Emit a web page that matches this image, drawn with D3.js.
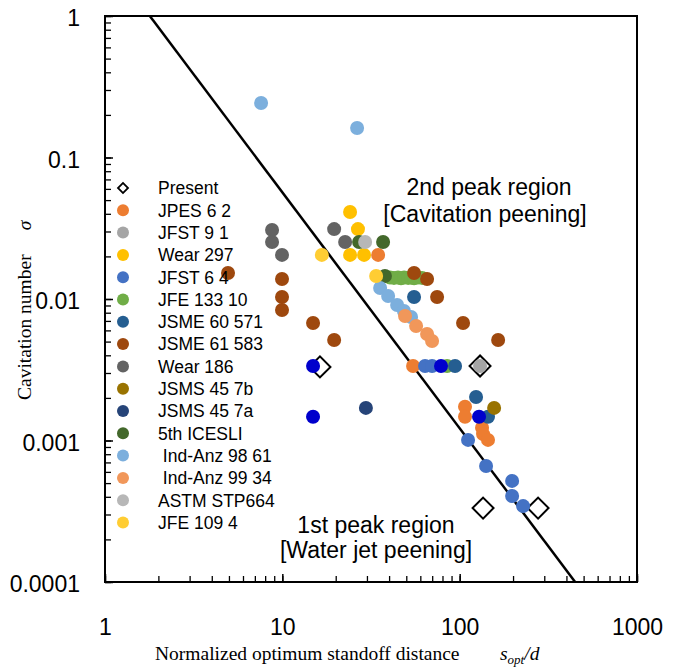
<!DOCTYPE html>
<html>
<head>
<meta charset="utf-8">
<script src="https://cdn.jsdelivr.net/npm/d3@7"></script>
<style>
  body { margin: 0; background: #fff; }
</style>
</head>
<body>
<div id="chart"></div>
<script>
// ---- data: [s_opt/d, sigma] ----
const present      = [[16.3, 0.00331], [130.3, 0.00336], [135.5, 0.000333], [276.8, 0.000333]];
const jpes62       = [[34.7, 0.0205], [54.6, 0.00336], [107.2, 0.00173], [107.2, 0.00147], [133.7, 0.00123], [135.5, 0.00111], [144.5, 0.00101]];
const jfst91       = [[130.3, 0.00336]];
const wear297      = [[24.1, 0.0412], [26.7, 0.0312], [24.1, 0.0205], [28.9, 0.0205]];
const jfst64       = [[63.8, 0.00336], [69.9, 0.00336], [111.5, 0.00101], [140.9, 0.00066], [197.6, 0.000518], [197.6, 0.000405], [227.9, 0.000344]];
const jfe13310     = [[40.5, 0.0142], [42.6, 0.0141], [44.9, 0.0142], [46.7, 0.0140], [48.6, 0.0142], [51.2, 0.0141], [53.2, 0.0142], [55.3, 0.0140], [58.3, 0.0142], [61.4, 0.0141], [84.9, 0.00336]];
const jsme60571    = [[55.3, 0.01033], [94.2, 0.00336], [123.7, 0.00203], [144.5, 0.00147]];
const jsme61583    = [[4.94, 0.01527], [9.96, 0.01385], [9.96, 0.01033], [9.96, 0.00836], [14.9, 0.00677], [19.6, 0.00513], [55.3, 0.01527], [65.5, 0.01385], [74.6, 0.01033], [104.5, 0.00677], [164.8, 0.00513]];
const wear186      = [[8.75, 0.0307], [8.75, 0.0253], [9.96, 0.0205], [19.6, 0.0312], [22.6, 0.0253]];
const jsms457b     = [[156.4, 0.0017]];
const jsms457a     = [[29.6, 0.0017]];
const icesli5      = [[27.1, 0.0253], [37.0, 0.0253], [37.9, 0.01455]];
const indAnz9861   = [[7.59, 0.243], [26.4, 0.1616], [35.6, 0.01197], [39.5, 0.0105], [44.4, 0.00907], [48.5, 0.00823], [53.2, 0.00746]];
const indAnz9934   = [[49.2, 0.00758], [56.8, 0.00645], [65.5, 0.00566], [69.9, 0.00505]];
const astmStp664   = [[29.3, 0.0253]];
const jfe1094      = [[16.7, 0.0205], [33.8, 0.01455]];
const unlabelled   = [[14.9, 0.00336], [14.9, 0.00147], [78.5, 0.00336], [128.6, 0.00147]];

// fitted line end points
const fitLine = [[1.79, 1], [448, 0.0001]];

const xTickValues = [1, 10, 100, 1000];
const xTickLabels = ["1", "10", "100", "1000"];
const yTickValues = [0.0001, 0.001, 0.01, 0.1, 1];
const yTickLabels = ["0.0001", "0.001", "0.01", "0.1", "1"];

const series = [
  {name: "Present",        values: present,    colour: "#fff",    shape: "diamond"},
  {name: "JPES 6 2",       values: jpes62,     colour: "#ED7D31"},
  {name: "JFST 9 1",       values: jfst91,     colour: "#A5A5A5"},
  {name: "Wear 297",       values: wear297,    colour: "#FFC000"},
  {name: "JFST 6 4",       values: jfst64,     colour: "#4472C4"},
  {name: "JFE 133 10",     values: jfe13310,   colour: "#70AD47"},
  {name: "JSME 60 571",    values: jsme60571,  colour: "#255E91"},
  {name: "JSME 61 583",    values: jsme61583,  colour: "#9E480E"},
  {name: "Wear 186",       values: wear186,    colour: "#636363"},
  {name: "JSMS 45 7b",     values: jsms457b,   colour: "#997300"},
  {name: "JSMS 45 7a",     values: jsms457a,   colour: "#264478"},
  {name: "5th ICESLI",     values: icesli5,    colour: "#43682B"},
  {name: " Ind-Anz 98 61", values: indAnz9861, colour: "#7CAFDD"},
  {name: " Ind-Anz 99 34", values: indAnz9934, colour: "#F1975A"},
  {name: "ASTM STP664",    values: astmStp664, colour: "#B7B7B7"},
  {name: "JFE 109 4",      values: jfe1094,    colour: "#FFCD33"},
  {name: "",               values: unlabelled, colour: "#0000CC", noLegend: true}
];

// ---- layout ----
const width = 682, height = 668;
const margin = {top: 16, right: 45, bottom: 86, left: 105};
const innerWidth = width - margin.left - margin.right;
const innerHeight = height - margin.top - margin.bottom;

const svg = d3.select("#chart").append("svg")
  .attr("width", width).attr("height", height)
  .attr("viewBox", `0 0 ${width} ${height}`);

const inner = svg.append("g")
  .attr("transform", `translate(${margin.left}, ${margin.top})`);

const xScale = d3.scaleLog().domain([1, 1000]).range([0, innerWidth]);
const yScale = d3.scaleLog().domain([0.0001, 1]).range([innerHeight, 0]);

svg.append("defs").append("clipPath").attr("id", "plot-clip")
  .append("rect").attr("width", innerWidth).attr("height", innerHeight);

// minor ticks (inward, no labels)
inner.append("g")
  .attr("transform", `translate(0, ${innerHeight})`)
  .call(d3.axisBottom(xScale).tickValues(xScale.ticks()).tickSize(-6).tickFormat(""))
  .call(g => g.select(".domain").remove())
  .call(g => g.selectAll("text").remove())
  .call(g => g.selectAll("line").attr("stroke-width", 1.3));

inner.append("g")
  .call(d3.axisLeft(yScale).tickValues(yScale.ticks()).tickSize(-6).tickFormat(""))
  .call(g => g.select(".domain").remove())
  .call(g => g.selectAll("text").remove())
  .call(g => g.selectAll("line").attr("stroke-width", 1.3));

// major ticks + labels
inner.append("g")
  .attr("transform", `translate(0, ${innerHeight})`)
  .call(d3.axisBottom(xScale).tickValues(xTickValues).tickSize(-8).tickPadding(37)
    .tickFormat((d, i) => xTickLabels[i]))
  .call(g => g.select(".domain").remove())
  .call(g => g.selectAll("line").attr("stroke-width", 1.5))
  .call(g => g.selectAll("text").attr("font-family", "Liberation Sans, Arial, sans-serif")
    .attr("font-size", 23).attr("fill", "#000"));

inner.append("g")
  .call(d3.axisLeft(yScale).tickValues(yTickValues).tickSize(-8).tickPadding(25)
    .tickFormat((d, i) => yTickLabels[i]))
  .call(g => g.select(".domain").remove())
  .call(g => g.selectAll("line").attr("stroke-width", 1.5))
  .call(g => g.selectAll("text").attr("font-family", "Liberation Sans, Arial, sans-serif")
    .attr("font-size", 23).attr("dy", "0.42em").attr("fill", "#000"));

// frame
inner.append("rect")
  .attr("width", innerWidth).attr("height", innerHeight)
  .attr("fill", "none").attr("stroke", "#000").attr("stroke-width", 2);

// fitted line
inner.append("path")
  .datum(fitLine)
  .attr("clip-path", "url(#plot-clip)")
  .attr("fill", "none").attr("stroke", "#000").attr("stroke-width", 2.5)
  .attr("d", d3.line().x(d => xScale(d[0])).y(d => yScale(d[1])));

// points
const diamond = d3.symbol().type(d3.symbolSquare).size(220);
series.forEach(s => {
  const g = inner.append("g");
  if (s.shape === "diamond") {
    g.selectAll("path").data(s.values).join("path")
      .attr("d", diamond)
      .attr("transform", d => `translate(${xScale(d[0])}, ${yScale(d[1])}) rotate(45)`)
      .attr("fill", "none").attr("stroke", "#000").attr("stroke-width", 2);
  } else {
    g.selectAll("circle").data(s.values).join("circle")
      .attr("cx", d => xScale(d[0]))
      .attr("cy", d => yScale(d[1]))
      .attr("r", 7)
      .attr("fill", s.colour);
  }
});

// legend
const legend = svg.append("g").attr("transform", "translate(123, 188)");
const legendItems = legend.selectAll("g")
  .data(series.filter(s => !s.noLegend))
  .join("g")
    .attr("transform", (d, i) => `translate(0, ${i * 22.3})`);

legendItems.each(function(d) {
  const item = d3.select(this);
  if (d.shape === "diamond") {
    item.append("path")
      .attr("d", d3.symbol().type(d3.symbolSquare).size(50))
      .attr("transform", "rotate(45)")
      .attr("fill", "#fff").attr("stroke", "#000").attr("stroke-width", 1.8);
  } else {
    item.append("circle").attr("r", 6).attr("fill", d.colour);
  }
});

legendItems.append("text")
  .attr("x", 35)
  .attr("dy", "0.36em")
  .attr("font-family", "Liberation Sans, Arial, sans-serif")
  .attr("font-size", 17.5)
  .style("white-space", "pre")
  .text(d => d.name);

// region notes
const notes = [
  {text: "2nd peak region",      x: 489, y: 195},
  {text: "[Cavitation peening]", x: 485, y: 222},
  {text: "1st peak region",      x: 376, y: 533},
  {text: "[Water jet peening]",  x: 376, y: 558}
];
svg.append("g").selectAll("text").data(notes).join("text")
  .attr("x", d => d.x).attr("y", d => d.y)
  .attr("text-anchor", "middle")
  .attr("font-family", "Liberation Sans, Arial, sans-serif")
  .attr("font-size", 23)
  .text(d => d.text);

// axis titles
const xTitle = svg.append("text")
  .attr("x", 155).attr("y", 660)
  .attr("font-family", "Liberation Serif, Times New Roman, serif")
  .attr("font-size", 19.5);
xTitle.append("tspan").text("Normalized optimum standoff distance");
xTitle.append("tspan").attr("x", 500).attr("font-style", "italic").text("s");
xTitle.append("tspan").attr("font-style", "italic").attr("font-size", 13).attr("dy", 4).text("opt");
xTitle.append("tspan").attr("font-style", "italic").attr("dy", -4).text("/d");

const yTitle = svg.append("text")
  .attr("transform", "translate(31, 400) rotate(-90)")
  .attr("font-family", "Liberation Serif, Times New Roman, serif")
  .attr("font-size", 19.5);
yTitle.append("tspan").text("Cavitation number");
yTitle.append("tspan").attr("dx", 24).attr("font-style", "italic").text("σ");
</script>
</body>
</html>
